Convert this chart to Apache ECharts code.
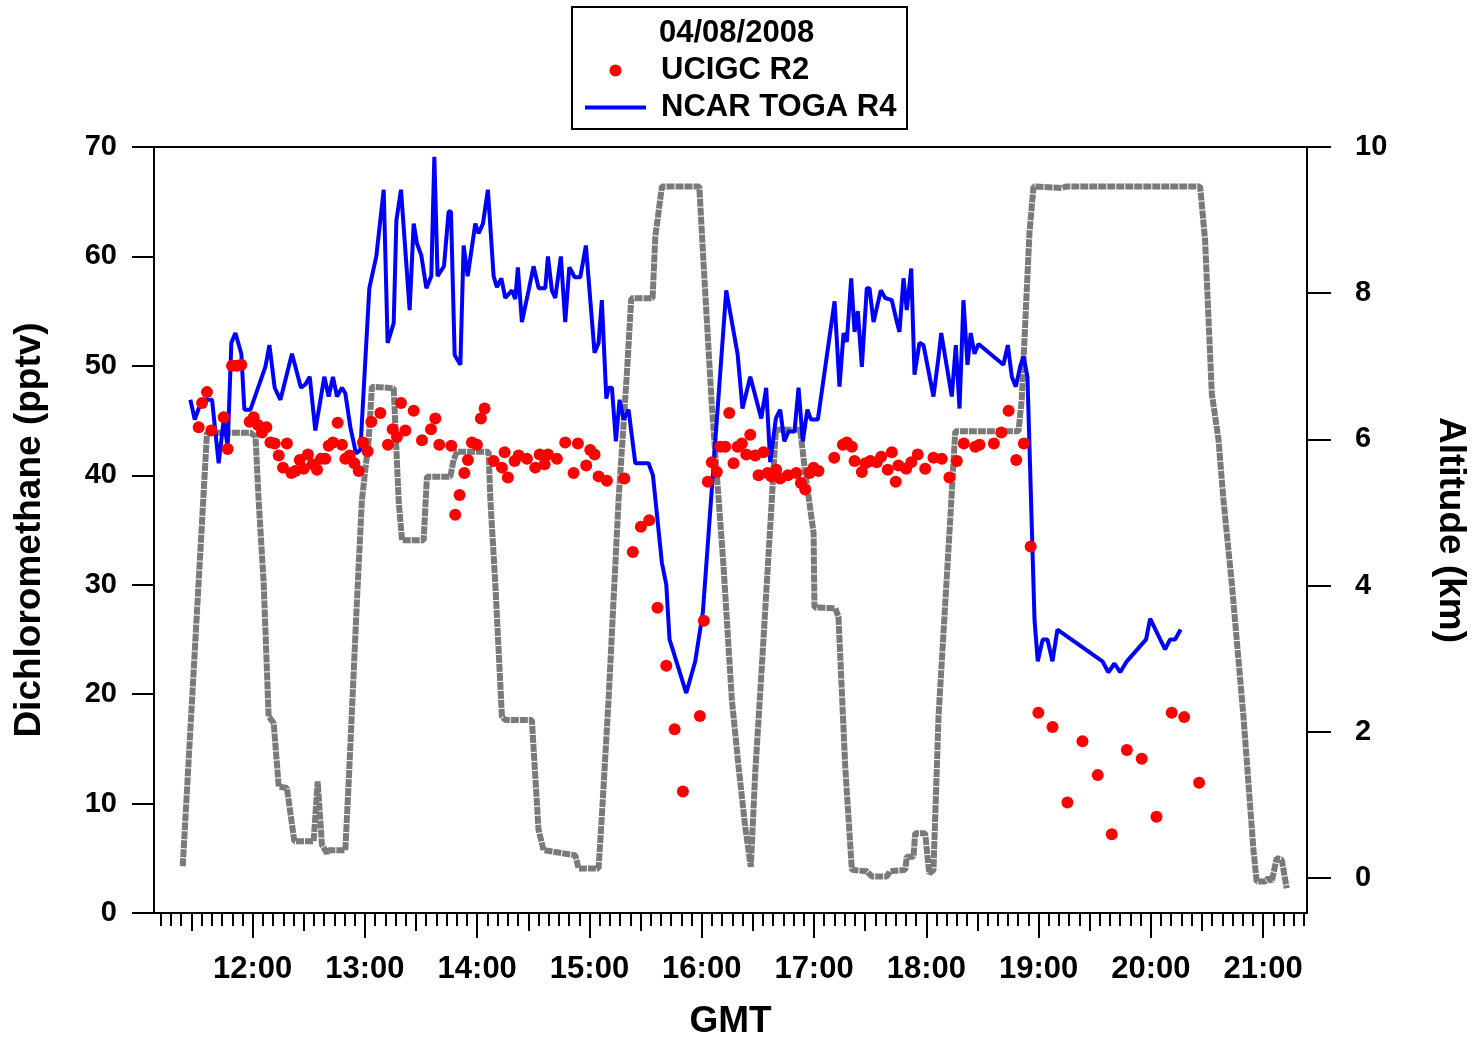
<!DOCTYPE html>
<html>
<head>
<meta charset="utf-8">
<title>Dichloromethane 04/08/2008</title>
<script src="https://cdn.jsdelivr.net/npm/echarts@6/dist/echarts.min.js"></script>
<style>
  html, body { margin: 0; padding: 0; background: #fff; }
  #chart { width: 1479px; height: 1038px; }
</style>
</head>
<body>
<div id="chart"></div>
<script>
// time in decimal hours GMT
const hourLabels = [12, 13, 14, 15, 16, 17, 18, 19, 20, 21]
const altitudeTicks = [0, 2, 4, 6, 8, 10]

// UCIGC R2 [hour, pptv]
const ucigc = [
  [11.519, 44.4], [11.549, 46.6], [11.593, 47.6], [11.632, 44.1], [11.742, 45.3], [11.777, 42.4],
  [11.816, 50.0], [11.86, 50.0], [11.899, 50.1], [11.973, 44.9], [12.009, 45.3], [12.047, 44.6],
  [12.083, 43.9], [12.122, 44.4], [12.158, 43.0], [12.196, 42.9], [12.232, 41.8], [12.27, 40.7],
  [12.305, 42.9], [12.345, 40.2], [12.38, 40.4], [12.419, 41.4], [12.454, 40.6], [12.492, 41.9],
  [12.534, 41.0], [12.573, 40.5], [12.608, 41.5], [12.647, 41.5], [12.677, 42.7], [12.715, 43.0],
  [12.757, 44.8], [12.795, 42.8], [12.825, 41.5], [12.864, 41.8], [12.905, 41.1], [12.944, 40.4],
  [12.982, 43.0], [13.024, 42.2], [13.057, 44.9], [13.137, 45.7], [13.205, 42.8], [13.247, 44.2],
  [13.285, 43.5], [13.321, 46.6], [13.36, 44.1], [13.434, 45.9], [13.508, 43.2], [13.588, 44.2],
  [13.627, 45.2], [13.662, 42.8], [13.769, 42.7], [13.804, 36.4], [13.843, 38.2], [13.885, 40.2],
  [13.917, 41.4], [13.953, 43.0], [13.997, 42.8], [14.033, 45.2], [14.066, 46.1], [14.146, 41.3],
  [14.22, 40.7], [14.244, 42.1], [14.273, 39.8], [14.333, 41.3], [14.369, 41.8], [14.443, 41.5],
  [14.517, 40.7], [14.556, 41.9], [14.6, 41.0], [14.63, 41.9], [14.71, 41.5], [14.784, 43.0],
  [14.858, 40.2], [14.897, 42.9], [14.971, 40.9], [15.007, 42.3], [15.045, 41.9], [15.081, 39.9],
  [15.155, 39.5], [15.31, 39.7], [15.386, 33.0], [15.458, 35.3], [15.532, 35.9], [15.606, 27.9],
  [15.684, 22.6], [15.758, 16.8], [15.832, 11.1], [15.983, 18.0], [16.019, 26.7], [16.054, 39.4],
  [16.09, 41.2], [16.134, 40.3], [16.165, 42.6], [16.209, 42.6], [16.245, 45.7], [16.283, 41.1],
  [16.319, 42.6], [16.357, 42.9], [16.396, 41.9], [16.432, 43.7], [16.476, 41.8], [16.506, 40.0],
  [16.55, 42.1], [16.586, 40.2], [16.619, 39.9], [16.663, 40.5], [16.699, 39.7], [16.767, 40.0],
  [16.842, 40.2], [16.883, 39.3], [16.922, 38.7], [16.96, 40.2], [16.996, 40.7], [17.04, 40.4],
  [17.18, 41.6], [17.257, 42.8], [17.292, 43.0], [17.337, 42.6], [17.361, 41.3], [17.426, 40.3],
  [17.457, 41.1], [17.501, 41.3], [17.559, 41.2], [17.598, 41.7], [17.657, 40.5], [17.693, 42.1],
  [17.728, 39.4], [17.752, 40.9], [17.821, 40.6], [17.866, 41.2], [17.924, 41.9], [17.99, 40.6],
  [18.064, 41.6], [18.138, 41.5], [18.206, 39.8], [18.272, 41.3], [18.334, 42.9], [18.436, 42.6],
  [18.474, 42.8], [18.602, 42.9], [18.668, 43.9], [18.733, 45.9], [18.801, 41.4], [18.869, 42.9],
  [18.93, 33.5], [18.998, 18.3], [19.124, 17.0], [19.257, 10.1], [19.391, 15.7], [19.527, 12.6],
  [19.652, 7.2], [19.786, 14.9], [19.919, 14.1], [20.05, 8.8], [20.186, 18.3], [20.297, 17.9],
  [20.43, 11.9]
]

// NCAR TOGA R4 [hour, pptv]
const toga = [
  [11.445, 46.9], [11.484, 45.1], [11.519, 46.1], [11.564, 46.9], [11.638, 46.9], [11.697, 41.1],
  [11.742, 45.1], [11.777, 42.6], [11.81, 52.1], [11.846, 53.0], [11.899, 51.1], [11.926, 46.0],
  [11.98, 46.0], [12.113, 49.9], [12.149, 51.9], [12.196, 48.0], [12.247, 46.9], [12.35, 51.1],
  [12.365, 51.0], [12.43, 48.0], [12.469, 48.3], [12.508, 49.0], [12.558, 44.1], [12.638, 49.0],
  [12.677, 47.2], [12.715, 49.0], [12.751, 47.2], [12.795, 48.0], [12.825, 47.5], [12.87, 44.4],
  [12.92, 42.0], [12.959, 42.3], [13.039, 57.1], [13.101, 60.0], [13.167, 66.1], [13.202, 52.1],
  [13.256, 53.9], [13.28, 63.3], [13.321, 66.1], [13.398, 55.1], [13.434, 63.0], [13.463, 61.2],
  [13.502, 60.1], [13.547, 57.1], [13.591, 58.2], [13.618, 69.1], [13.647, 58.2], [13.704, 59.1],
  [13.745, 64.1], [13.766, 64.1], [13.799, 51.0], [13.85, 50.1], [13.879, 61.0], [13.915, 58.2],
  [13.983, 63.0], [14.012, 62.1], [14.051, 63.0], [14.095, 66.1], [14.146, 58.2], [14.175, 57.2],
  [14.215, 58.0], [14.25, 56.2], [14.309, 56.9], [14.339, 56.1], [14.362, 59.0], [14.398, 54.0],
  [14.458, 56.9], [14.502, 59.1], [14.547, 57.1], [14.606, 57.1], [14.63, 60.0], [14.665, 56.9],
  [14.695, 56.2], [14.745, 60.0], [14.784, 54.0], [14.82, 59.0], [14.843, 58.6], [14.867, 58.1],
  [14.918, 58.1], [14.968, 61.0], [15.045, 51.2], [15.081, 52.1], [15.11, 56.0], [15.15, 47.0],
  [15.17, 48.0], [15.2, 48.0], [15.235, 43.1], [15.268, 46.9], [15.304, 45.1], [15.348, 46.0],
  [15.408, 41.1], [15.526, 41.1], [15.565, 40.0], [15.645, 32.0], [15.684, 30.0], [15.713, 25.0],
  [15.862, 20.1], [15.942, 23.0], [16.01, 27.5], [16.218, 56.9], [16.319, 51.1], [16.363, 46.1],
  [16.432, 49.0], [16.53, 45.2], [16.574, 48.0], [16.61, 41.2], [16.66, 45.2], [16.699, 46.0],
  [16.735, 43.1], [16.773, 44.0], [16.826, 44.0], [16.862, 48.0], [16.9, 43.1], [16.941, 46.0],
  [16.973, 45.1], [17.034, 45.1], [17.183, 55.9], [17.227, 48.1], [17.263, 53.0], [17.292, 52.2],
  [17.331, 58.0], [17.361, 53.1], [17.39, 55.0], [17.426, 49.9], [17.47, 57.1], [17.494, 57.1],
  [17.53, 54.0], [17.595, 56.9], [17.634, 56.2], [17.693, 56.0], [17.738, 54.0], [17.761, 53.1],
  [17.797, 58.0], [17.826, 55.1], [17.866, 58.9], [17.895, 49.2], [17.939, 52.1], [17.975, 51.9],
  [18.064, 47.2], [18.109, 50.8], [18.133, 53.0], [18.227, 47.2], [18.263, 51.9], [18.296, 46.1],
  [18.331, 56.0], [18.367, 50.1], [18.396, 53.0], [18.429, 51.1], [18.465, 52.0], [18.687, 50.1],
  [18.726, 51.9], [18.762, 49.0], [18.797, 48.1], [18.836, 49.9], [18.866, 50.9], [18.901, 49.0],
  [18.964, 26.8], [18.993, 23.0], [19.037, 25.0], [19.079, 25.0], [19.124, 23.0], [19.168, 25.9],
  [19.569, 23.0], [19.622, 22.0], [19.676, 22.8], [19.727, 22.0], [19.786, 23.0], [19.958, 25.0],
  [19.994, 26.9], [20.127, 24.1], [20.172, 25.0], [20.216, 25.0], [20.266, 25.9]
]

// aircraft altitude [hour, km]
const altitude = [
  [11.377, 0.16], [11.593, 6.09], [11.98, 6.09], [12.025, 6.04], [12.053, 5.17], [12.098, 4.03],
  [12.142, 2.21], [12.187, 2.12], [12.232, 1.25], [12.305, 1.23], [12.371, 0.5], [12.543, 0.5],
  [12.579, 1.32], [12.617, 0.45], [12.662, 0.34], [12.677, 0.38], [12.825, 0.38], [12.855, 1.3],
  [12.929, 3.8], [12.973, 5.17], [13.033, 5.99], [13.062, 6.72], [13.256, 6.7], [13.3, 5.17],
  [13.33, 4.62], [13.523, 4.62], [13.552, 5.49], [13.76, 5.49], [13.79, 5.72], [13.819, 5.83],
  [14.102, 5.83], [14.117, 5.17], [14.161, 4.03], [14.22, 2.21], [14.25, 2.16], [14.487, 2.16],
  [14.546, 0.66], [14.591, 0.38], [14.873, 0.31], [14.903, 0.13], [15.081, 0.13], [15.11, 0.84],
  [15.17, 2.44], [15.259, 5.17], [15.333, 6.9], [15.372, 7.93], [15.562, 7.93], [15.586, 8.77],
  [15.645, 9.46], [15.978, 9.46], [16.016, 8.41], [16.09, 6.45], [16.194, 4.26], [16.268, 2.44],
  [16.328, 1.52], [16.387, 0.7], [16.437, 0.15], [16.476, 1.43], [16.535, 2.89], [16.624, 5.17],
  [16.66, 6.13], [16.877, 6.13], [16.922, 5.54], [16.996, 4.72], [17.004, 3.7], [17.189, 3.69],
  [17.218, 3.57], [17.278, 1.52], [17.337, 0.11], [17.47, 0.09], [17.515, 0.02], [17.648, 0.02],
  [17.678, 0.09], [17.812, 0.11], [17.826, 0.29], [17.886, 0.29], [17.901, 0.61], [17.99, 0.61],
  [18.026, 0.06], [18.064, 0.11], [18.109, 2.21], [18.213, 4.9], [18.258, 6.11], [18.821, 6.11],
  [18.85, 6.54], [18.895, 8.04], [18.919, 8.82], [18.955, 9.46], [19.208, 9.44], [19.25, 9.46],
  [20.439, 9.46], [20.483, 8.73], [20.543, 6.63], [20.603, 5.99], [20.647, 5.17], [20.721, 4.03],
  [20.825, 2.21], [20.914, 0.38], [20.943, -0.05], [21.018, -0.05], [21.047, 0.0], [21.077, -0.05],
  [21.121, 0.27], [21.166, 0.25], [21.21, -0.14]
]

const X_MIN = 11.121
const X_MAX = 21.391
const FONT = 'Liberation Sans, Arial, sans-serif'

// Igor-style time ticks: 11 divisions per hour, longer one at the 5th
const majorTicks = hourLabels.slice()
const mediumTicks = []
const minorTicks = []
for (let h = 11; h <= 21; h++) {
  for (let k = 1; k < 11; k++) {
    const v = h + k / 11
    if (v <= X_MIN || v >= X_MAX) continue
    if (k === 5) mediumTicks.push(v)
    else minorTicks.push(v)
  }
}

const black = { color: '#000', width: 2 }

function tickAxis(values, len) {
  return {
    type: 'value',
    gridIndex: 0,
    position: 'bottom',
    min: X_MIN,
    max: X_MAX,
    axisLine: { show: false, onZero: false },
    axisTick: { show: true, customValues: values, length: len, lineStyle: black },
    axisLabel: { show: false },
    splitLine: { show: false }
  }
}

const chart = echarts.init(document.getElementById('chart'))
chart.setOption({
  animation: false,
  backgroundColor: '#fff',
  grid: {
    left: 154,
    right: 172,
    top: 147,
    bottom: 125,
    show: true,
    borderColor: '#000',
    borderWidth: 2,
    containLabel: false,
    outerBoundsMode: 'none'
  },
  legend: {
    data: [
      { name: 'UCIGC R2' },
      // line only, no marker in the middle
      {
        name: 'NCAR TOGA R4',
        itemStyle: { opacity: 0, color: 'rgba(0,0,0,0)', borderWidth: 0 },
        lineStyle: { width: 4 }
      }
    ],
    orient: 'vertical',
    left: 583,
    top: 55,
    padding: 0,
    itemWidth: 61,
    itemHeight: 12,
    itemGap: 6,
    selectedMode: false,
    textStyle: {
      fontFamily: FONT,
      fontWeight: 'bold',
      fontSize: 31,
      lineHeight: 30,
      color: '#000',
      padding: [0, 0, 0, 10]
    }
  },
  graphic: [
    {
      type: 'rect',
      shape: { x: 572, y: 7, width: 335, height: 122 },
      style: { fill: 'none', stroke: '#000', lineWidth: 2 }
    },
    {
      type: 'text',
      x: 659,
      y: 33,
      style: {
        text: '04/08/2008',
        font: 'bold 31px ' + FONT,
        fill: '#000',
        verticalAlign: 'middle'
      }
    }
  ],
  xAxis: [
    {
      type: 'value',
      position: 'bottom',
      min: X_MIN,
      max: X_MAX,
      name: 'GMT',
      nameLocation: 'middle',
      nameGap: 90,
      nameTextStyle: { fontFamily: FONT, fontWeight: 'bold', fontSize: 37, color: '#000' },
      axisLine: { show: true, onZero: false, lineStyle: black },
      axisTick: { show: true, customValues: majorTicks, length: 25, lineStyle: black },
      axisLabel: {
        customValues: majorTicks,
        formatter: v => Math.round(v) + ':00',
        fontFamily: FONT,
        fontWeight: 'bold',
        fontSize: 31,
        color: '#000',
        margin: 41
      },
      splitLine: { show: false }
    },
    tickAxis(mediumTicks, 18),
    tickAxis(minorTicks, 13)
  ],
  yAxis: [
    {
      type: 'value',
      position: 'left',
      min: 0,
      max: 70,
      interval: 10,
      name: 'Dichloromethane (pptv)',
      nameLocation: 'middle',
      nameRotate: 90,
      nameGap: 106,
      nameTextStyle: { fontFamily: FONT, fontWeight: 'bold', fontSize: 37, color: '#000' },
      axisLine: { show: true, onZero: false, lineStyle: black },
      axisTick: { show: true, length: 22, lineStyle: black },
      axisLabel: { fontFamily: FONT, fontWeight: 'bold', fontSize: 29, color: '#000', margin: 37 },
      splitLine: { show: false }
    },
    {
      type: 'value',
      position: 'right',
      min: -0.48,
      max: 10,
      name: 'Altitude (km)',
      nameLocation: 'middle',
      nameRotate: -90,
      nameGap: 125,
      nameTextStyle: { fontFamily: FONT, fontWeight: 'bold', fontSize: 37, color: '#000' },
      axisLine: { show: true, onZero: false, lineStyle: black },
      axisTick: { show: true, customValues: altitudeTicks, length: 24, lineStyle: black },
      axisLabel: {
        customValues: altitudeTicks,
        fontFamily: FONT,
        fontWeight: 'bold',
        fontSize: 29,
        color: '#000',
        margin: 48
      },
      splitLine: { show: false }
    }
  ],
  series: [
    {
      name: 'Altitude',
      type: 'line',
      xAxisIndex: 0,
      yAxisIndex: 1,
      data: altitude,
      symbol: 'none',
      silent: true,
      z: 1,
      lineStyle: { color: '#7a7a7a', width: 6, type: [8, 1] }
    },
    {
      name: 'NCAR TOGA R4',
      type: 'line',
      xAxisIndex: 0,
      yAxisIndex: 0,
      data: toga,
      symbol: 'none',
      z: 2,
      itemStyle: { color: '#0000ff' },
      lineStyle: { color: '#0000ff', width: 4 }
    },
    {
      name: 'UCIGC R2',
      type: 'scatter',
      xAxisIndex: 0,
      yAxisIndex: 0,
      data: ucigc,
      symbolSize: 12,
      z: 3,
      itemStyle: { color: '#ff0000', opacity: 1 }
    }
  ]
})
</script>
</body>
</html>
